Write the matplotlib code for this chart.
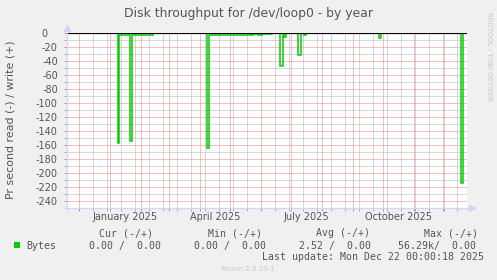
import matplotlib
matplotlib.use("Agg")
import matplotlib.pyplot as plt
import matplotlib.transforms as mtransforms
from matplotlib.patches import Rectangle
import pandas as pd

# ---------------- data ----------------
title = "Disk throughput for /dev/loop0 - by year"
ylabel = "Pr second read (-) / write (+)"

read_dates = [
    "2024-11-18 12:00", "2025-01-08 12:00", "2025-01-10 00:00", "2025-01-21 00:00",
    "2025-01-23 00:00", "2025-02-13 00:00", "2025-04-08 00:00", "2025-04-10 00:00",
    "2025-05-24 00:00", "2025-05-29 00:00", "2025-06-02 00:00", "2025-06-12 00:00",
    "2025-06-20 00:00", "2025-06-22 12:00", "2025-06-23 12:00", "2025-06-25 12:00",
    "2025-07-08 00:00", "2025-07-10 12:00", "2025-07-14 00:00", "2025-07-16 00:00",
    "2025-09-26 17:00", "2025-09-28 17:00", "2025-12-18 00:00", "2025-12-20 00:00",
    "2025-12-23 12:00",
]
read_values = [
    0, -157, -3, -154,
    -3, 0, -164, -3,
    -1, -3, -1, 0,
    -46, 0, -5, 0,
    -31, 0, -3, 0,
    -6, 0, -214, 0,
    0,
]

y_ticks = list(range(0, -241, -20))
y_tick_labels = [str(v) for v in y_ticks]
month_labels = ["January 2025", "April 2025", "July 2025", "October 2025"]
month_label_starts = ["2025-01-01", "2025-04-01", "2025-07-01", "2025-10-01"]

legend_name = "Bytes"
legend_headers = ["Cur (-/+)", "Min (-/+)", "Avg (-/+)", "Max (-/+)"]
legend_values = ["0.00 /  0.00", "0.00 /  0.00", "2.52 /  0.00", "56.29k/  0.00"]
last_update = "Last update: Mon Dec 22 00:00:18 2025"
munin_version = "Munin 2.0.33-1"
watermark = "RRDTOOL / TOBI OETIKER"

x_start = pd.Timestamp("2024-11-18 12:00")
x_end = pd.Timestamp("2025-12-23 12:00")

# ---------------- style ----------------
W, H = 497, 280
BG = "#F0F0F0"
FONT_C = "#555555"
AXIS_C = "#CFD6F8"
GRID_MINOR = "#B0B0B0"
GRID_MAJOR = "#EC8080"
LINE_C = "#00CC00"
PX = 72 / 100  # one pixel in points

fig = plt.figure(figsize=(W / 100, H / 100), dpi=100, facecolor=BG)
top_px, bot_px, left_px, right_px = 33.3, 208.3, 66.5, 466.5
ax = fig.add_axes([left_px / W, 1 - bot_px / H, (right_px - left_px) / W, (bot_px - top_px) / H])
ax.set_facecolor("white")
ax.set_axisbelow(True)

# data line
dates = pd.to_datetime(read_dates)
ax.plot(dates, read_values, drawstyle="steps-post", color=LINE_C, lw=1.5 * PX,
        solid_joinstyle="miter", zorder=3)
ax.axhline(0, color="black", lw=1.2 * PX, zorder=4)

ax.set_xlim(x_start, x_end)
ax.set_ylim(-250, 0)

# grids
ax.set_yticks(y_ticks)
ax.set_yticklabels(y_tick_labels)
ax.set_yticks(list(range(-10, -251, -20)), minor=True)
month_starts = pd.date_range("2024-12-01", "2025-12-01", freq="MS")
biweekly = [d for d in pd.date_range("2024-12-01", "2025-12-23", freq="14D") if d not in set(month_starts)]
ax.set_xticks(month_starts)
ax.set_xticks(biweekly, minor=True)
ax.tick_params(axis="x", which="both", labelbottom=False)

dash = (0, (1, 1))
ax.grid(True, which="major", color=GRID_MAJOR, lw=PX, linestyle=dash)
ax.grid(True, which="minor", color=GRID_MINOR, lw=PX, linestyle=dash)
ax.tick_params(axis="both", which="major", length=2.2, width=PX, color=GRID_MAJOR)
ax.tick_params(axis="both", which="minor", length=2.2, width=PX, color=GRID_MINOR)
ax.tick_params(axis="y", which="major", labelsize=7, labelcolor=FONT_C, pad=4)

for s in ax.spines.values():
    s.set_visible(False)

# axes lines with arrows
ax.plot([0, 0], [-3 / 175, 1 + 5 / 175], transform=ax.transAxes, color=AXIS_C, lw=1.2 * PX,
        clip_on=False, zorder=5)
ax.plot([0], [1 + 5 / 175], transform=ax.transAxes, marker="^", ms=4.2, color=AXIS_C,
        mec=AXIS_C, clip_on=False, zorder=5)
ax.plot([-3 / 400, 1 + 5 / 400], [0, 0], transform=ax.transAxes, color=AXIS_C, lw=1.2 * PX,
        clip_on=False, zorder=5)
ax.plot([1 + 5 / 400], [0], transform=ax.transAxes, marker=">", ms=4.2, color=AXIS_C,
        mec=AXIS_C, clip_on=False, zorder=5)

# month labels centred in their months
for lab, st in zip(month_labels, month_label_starts):
    s = pd.Timestamp(st)
    mid = s + (s + pd.offsets.MonthBegin(1) - s) / 2
    ax.text(mid, -(216.7 - bot_px) / 175, lab, transform=ax.get_xaxis_transform(),
            ha="center", va="center", fontsize=7, color=FONT_C)

# y label and title
fig.text(11 / W, 1 - 120 / H, ylabel, rotation=90, ha="center", va="center", fontsize=7.9,
         color=FONT_C)
fig.text(248.5 / W, 1 - 13.5 / H, title, ha="center", va="center", fontsize=8.9, color=FONT_C)
fig.text(488.5 / W, 1 - 56.5 / H, watermark, rotation=-90, ha="center", va="center",
         fontsize=5, color="#C8C8C8")

# legend
mono = "DejaVu Sans Mono"
fs = 7.15
fig.patches.append(Rectangle((14 / W, 1 - 248 / H), 6 / W, 6 / H, transform=fig.transFigure,
                             facecolor=LINE_C, edgecolor="none"))
fig.text(26.7 / W, 1 - 246 / H, legend_name, family=mono, fontsize=fs, color=FONT_C, va="center")
for x, t in zip([98.7, 207.7, 316, 423.7], legend_headers):
    fig.text(x / W, 1 - 233.3 / H, t, family=mono, fontsize=fs, color=FONT_C, va="center")
for x, t in zip([89.3, 194.3, 299.3, 398.3], legend_values):
    fig.text(x / W, 1 - 246 / H, t, family=mono, fontsize=fs, color=FONT_C, va="center")
fig.text(261.7 / W, 1 - 257.3 / H, last_update, family=mono, fontsize=fs, color=FONT_C,
         va="center")
fig.text(248.3 / W, 1 - 269 / H, munin_version, ha="center", va="center", fontsize=5.1,
         color="#C8C8C8")

# "0" label sits a little left of the others in the reference
for lab in ax.get_yticklabels():
    if lab.get_text() == "0":
        lab.set_transform(lab.get_transform() + mtransforms.ScaledTranslation(-10 / 100, 0,
                                                                              fig.dpi_scale_trans))

fig.savefig("out.png", dpi=100, facecolor=BG)
